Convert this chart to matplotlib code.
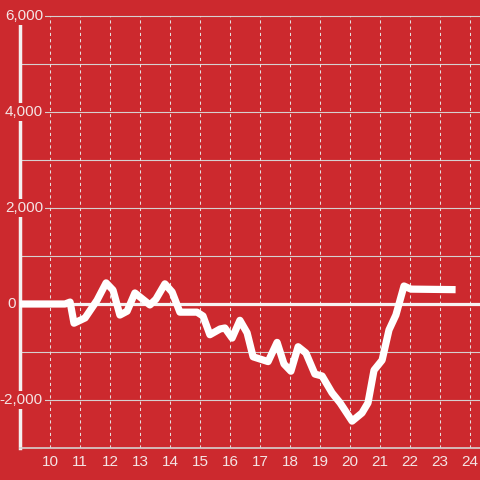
import numpy as np
import matplotlib.pyplot as plt

plt.rcParams['font.family'] = ['Liberation Sans', 'DejaVu Sans']

hours = [9.0, 10.5, 10.67, 10.8, 11.17, 11.57, 11.87, 12.1, 12.33, 12.57, 12.83,
         13.33, 13.53, 13.83, 14.07, 14.33, 14.9, 15.1, 15.33, 15.67, 15.83,
         16.07, 16.33, 16.57, 16.77, 17.27, 17.57, 17.8, 18.03, 18.27, 18.53,
         18.83, 19.07, 19.4, 19.67, 20.07, 20.4, 20.6, 20.8, 21.07, 21.3,
         21.53, 21.8, 22.03, 23.4]
values = [0, 0, 40, -400, -290, 80, 440, 290, -230, -150, 230,
          -20, 100, 420, 250, -170, -170, -250, -640, -520, -500,
          -710, -340, -600, -1100, -1200, -800, -1250, -1400, -890, -1020,
          -1460, -1500, -1850, -2060, -2440, -2270, -2060, -1380, -1170, -540,
          -230, 375, 310, 300]
x_ticks = list(range(10, 25))
y_labels = {6000: '6,000', 4000: '4,000', 2000: '2,000', 0: '0', -2000: '-2,000'}

bg = '#cc292e'
txt = '#f4e4e4'

fig = plt.figure(figsize=(4.8, 4.8), dpi=100, facecolor=bg)
ax = fig.add_axes([20 / 480, 32 / 480, 460 / 480, 432 / 480])
ax.set_facecolor(bg)
ax.set_xlim(9, 9 + 460 / 30)
ax.set_ylim(-3000, 6000)

for s in ['top', 'right']:
    ax.spines[s].set_visible(False)
ax.spines['bottom'].set_color('#d6d0d0')
ax.spines['bottom'].set_linewidth(1.2)
ax.spines['left'].set_color('#f4f0f0')
ax.spines['left'].set_linewidth(2.5)

for yv in np.arange(-2000, 6001, 1000):
    if yv == 0:
        ax.axhline(yv, color='#f7f2f2', lw=2.3, zorder=1.5)
    else:
        ax.axhline(yv, color='#d6d0d0', lw=0.8, zorder=1, clip_on=False)
for xv in x_ticks:
    ax.axvline(xv, color='#e6dede', lw=0.75, dashes=(3, 3), zorder=1)

ax.plot(hours, values, color='white', lw=5.2, zorder=3)

ax.set_yticks([])
ax.set_xticks(x_ticks)
ax.tick_params(axis='x', length=0, pad=5, labelcolor=txt, labelsize=11)

ytr = ax.get_yaxis_transform()
for yv, lab in y_labels.items():
    if yv == 0:
        ax.text(-0.009, yv, lab, transform=ytr, ha='right', va='center',
                color=txt, fontsize=11, clip_on=False, zorder=4)
    else:
        ax.text(0.05, yv, lab, transform=ytr, ha='right', va='center',
                color=txt, fontsize=11, clip_on=False, zorder=4,
                bbox=dict(boxstyle='square,pad=0.12', fc=bg, ec='none'))

fig.savefig('out.png', dpi=100, facecolor=bg)
